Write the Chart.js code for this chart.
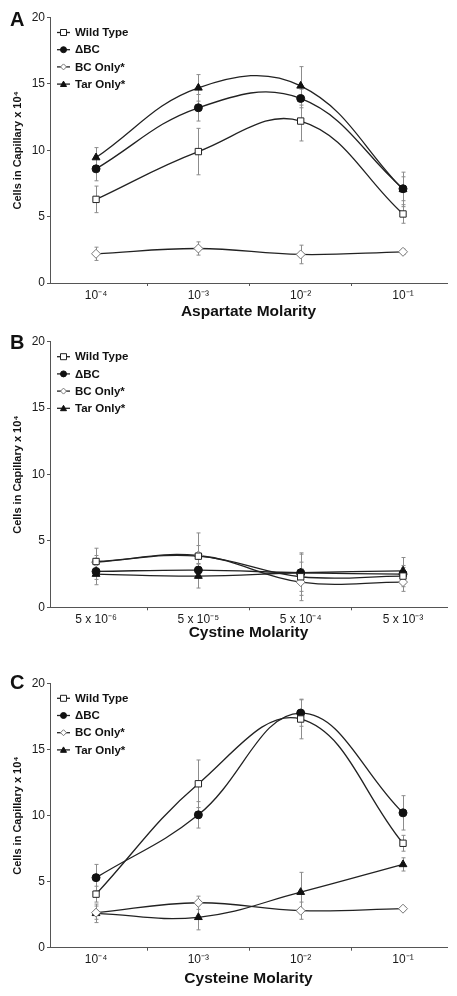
<!DOCTYPE html>
<html>
<head>
<meta charset="utf-8">
<script src="https://cdn.jsdelivr.net/npm/chart.js@4.4.0/dist/chart.umd.min.js"></script>
<style>
  body { margin: 0; background: #fff; width: 457px; height: 996px; position: relative; overflow: hidden; }
  canvas { position: absolute; left: 0; }
  .letter { position: absolute; left: 10px; font: bold 20px/20px "Liberation Sans", Arial, sans-serif; color: #111; }
</style>
</head>
<body>
<canvas id="cA" width="457" height="322" style="top:0px"></canvas>
<canvas id="cB" width="457" height="328" style="top:322px"></canvas>
<canvas id="cC" width="457" height="346" style="top:650px"></canvas>
<div class="letter" style="top:9px">A</div>
<div class="letter" style="top:332px">B</div>
<div class="letter" style="top:672px">C</div>
<script>
// tick labels
const aspartateLabels = ['10⁻⁴', '10⁻³', '10⁻²', '10⁻¹'];
const cystineLabels = ['5 x 10⁻⁶', '5 x 10⁻⁵', '5 x 10⁻⁴', '5 x 10⁻³'];
const cysteineLabels = ['10⁻⁴', '10⁻³', '10⁻²', '10⁻¹'];
const seriesNames = ['Wild Type', 'ΔBC', 'BC Only*', 'Tar Only*'];
const yTitle = 'Cells in Capillary x 10⁴';

// A - aspartate
const aspWT = [6.3, 9.9, 12.2, 5.2];
const aspWTErr = [1.0, 1.75, 1.5, 0.7];
const aspDBC = [8.6, 13.2, 13.9, 7.1];
const aspDBCErr = [0.9, 1.0, 0.7, 0.9];
const aspBC = [2.2, 2.6, 2.15, 2.35];
const aspBCErr = [0.5, 0.5, 0.7, 0.2];
const aspTar = [9.45, 14.7, 14.85, 7.05];
const aspTarErr = [0.75, 1.0, 1.45, 1.3];

// B - cystine
const cysWT = [3.45, 3.85, 2.3, 2.35];
const cysWTErr = [1.0, 0.8, 1.8, 0.8];
const cysDBC = [2.7, 2.8, 2.6, 2.5];
const cysDBCErr = [0.6, 0.5, 1.4, 0.5];
const cysBC = [3.4, 3.9, 1.9, 1.9];
const cysBCErr = [0.5, 1.7, 1.0, 0.7];
const cysTar = [2.5, 2.35, 2.6, 2.75];
const cysTarErr = [0.8, 0.9, 0.8, 1.0];

// C - cysteine
const cyteWT = [4.05, 12.4, 17.3, 7.9];
const cyteWTErr = [0.6, 1.8, 1.5, 0.6];
const cyteDBC = [5.3, 10.05, 17.75, 10.2];
const cyteDBCErr = [1.0, 1.0, 1.0, 1.3];
const cyteBC = [2.65, 3.4, 2.8, 2.95];
const cyteBCErr = [0.5, 0.5, 0.65, 0.15];
const cyteTar = [2.6, 2.3, 4.2, 6.3];
const cyteTarErr = [0.7, 0.95, 1.5, 0.5];

const FONT = '"Liberation Sans", Arial, sans-serif';
Chart.defaults.font.family = FONT;
Chart.defaults.color = '#1a1a1a';

// marker looks per series (same order as seriesNames)
const markers = [
  { style: 'rect', radius: 4.5, fill: '#fff', stroke: '#222' },
  { style: 'circle', radius: 4, fill: '#111', stroke: '#111' },
  { style: 'rectRot', radius: 4.5, fill: '#fff', stroke: '#777' },
  { style: 'triangle', radius: 4.5, fill: '#111', stroke: '#111' }
];

function drawMarker(ctx, style, x, y, r, fill, stroke) {
  ctx.beginPath();
  if (style === 'circle') {
    ctx.arc(x, y, r, 0, Math.PI * 2);
  } else if (style === 'rect') {
    ctx.rect(x - r, y - r, r * 2, r * 2);
  } else if (style === 'rectRot') {
    ctx.moveTo(x, y - r); ctx.lineTo(x + r, y); ctx.lineTo(x, y + r); ctx.lineTo(x - r, y); ctx.closePath();
  } else {
    ctx.moveTo(x, y - r); ctx.lineTo(x + r, y + r * 0.8); ctx.lineTo(x - r, y + r * 0.8); ctx.closePath();
  }
  ctx.fillStyle = fill; ctx.fill();
  ctx.strokeStyle = stroke; ctx.lineWidth = 1; ctx.stroke();
}

// vertical error bars, drawn under the lines
const errorBars = {
  id: 'errorBars',
  beforeDatasetsDraw(chart) {
    const ctx = chart.ctx, ys = chart.scales.y;
    ctx.save();
    ctx.strokeStyle = '#8c8c8c';
    ctx.lineWidth = 1;
    chart.data.datasets.forEach((ds, i) => {
      chart.getDatasetMeta(i).data.forEach((pt, j) => {
        const v = ds.data[j].y, e = ds.errors[j];
        const top = ys.getPixelForValue(v + e), bot = ys.getPixelForValue(v - e);
        const x = Math.round(pt.x) + 0.5;
        ctx.beginPath();
        ctx.moveTo(x, top); ctx.lineTo(x, bot);
        ctx.moveTo(x - 2, top); ctx.lineTo(x + 2, top);
        ctx.moveTo(x - 2, bot); ctx.lineTo(x + 2, bot);
        ctx.stroke();
      });
    });
    ctx.restore();
  }
};

// legend inside the plot, top left
const insideLegend = {
  id: 'insideLegend',
  afterDraw(chart) {
    const { ctx, chartArea } = chart;
    ctx.save();
    chart.data.datasets.forEach((ds, i) => {
      const ly = chartArea.top + 15 + 17.2 * i;
      const x0 = chartArea.left + 7, x1 = chartArea.left + 20;
      ctx.strokeStyle = '#222'; ctx.lineWidth = 1.3;
      ctx.beginPath(); ctx.moveTo(x0, ly); ctx.lineTo(x1, ly); ctx.stroke();
      const m = markers[i];
      drawMarker(ctx, m.style, (x0 + x1) / 2, ly, 3, m.fill, m.stroke);
      ctx.fillStyle = '#111';
      ctx.font = 'bold 11.5px ' + FONT;
      ctx.textBaseline = 'middle';
      ctx.textAlign = 'left';
      ctx.fillText(ds.label, chartArea.left + 25, ly + 0.5);
    });
    ctx.restore();
  }
};

function makePanel(id, labels, series, errors, xTitle, lay) {
  const datasets = series.map((vals, i) => ({
    label: seriesNames[i],
    data: vals.map((v, j) => ({ x: j, y: v })),
    errors: errors[i],
    borderColor: '#222',
    borderWidth: 1.3,
    tension: 0.4,
    pointStyle: markers[i].style,
    pointRadius: markers[i].radius,
    pointBackgroundColor: markers[i].fill,
    pointBorderColor: markers[i].stroke,
    pointBorderWidth: 1,
    fill: false
  }));

  new Chart(document.getElementById(id), {
    type: 'line',
    data: { datasets },
    plugins: [errorBars, insideLegend],
    options: {
      responsive: false,
      animation: false,
      layout: { padding: { top: lay.top, bottom: lay.bottom, left: 0, right: 10 } },
      plugins: { legend: { display: false }, tooltip: { enabled: false } },
      scales: {
        x: {
          type: 'linear',
          min: -0.45,
          max: 3.43,
          afterBuildTicks: s => { s.ticks = labels.map((l, i) => ({ value: i })); },
          afterFit: s => { s.height = lay.xH; },
          ticks: { callback: v => labels[v], font: { size: 12 }, padding: 2, maxRotation: 0, color: '#1a1a1a' },
          grid: { drawOnChartArea: false, offset: true, tickLength: 3, color: '#555' },
          border: { color: '#555', width: 1 },
          title: { display: true, text: xTitle, font: { size: 15.5, weight: 'bold' }, padding: { top: 0, bottom: 0 }, color: '#111' }
        },
        y: {
          min: 0,
          max: 20,
          afterFit: s => { s.width = 50; },
          ticks: { stepSize: 5, font: { size: 12 }, padding: 2, color: '#1a1a1a' },
          grid: { drawOnChartArea: false, tickLength: 3, color: '#555' },
          border: { color: '#555', width: 1 },
          title: { display: true, text: yTitle, font: { size: 11, weight: 'bold' }, padding: { top: 11.4, bottom: 0 }, color: '#111' }
        }
      }
    }
  });
}

makePanel('cA', aspartateLabels,
  [aspWT, aspDBC, aspBC, aspTar], [aspWTErr, aspDBCErr, aspBCErr, aspTarErr],
  'Aspartate Molarity', { top: 17.5, bottom: 0.5, xH: 38.5 });
makePanel('cB', cystineLabels,
  [cysWT, cysDBC, cysBC, cysTar], [cysWTErr, cysDBCErr, cysBCErr, cysTarErr],
  'Cystine Molarity', { top: 19.7, bottom: 7.7, xH: 35 });
makePanel('cC', cysteineLabels,
  [cyteWT, cyteDBC, cyteBC, cyteTar], [cyteWTErr, cyteDBCErr, cyteBCErr, cyteTarErr],
  'Cysteine Molarity', { top: 33.3, bottom: 8.3, xH: 40 });
</script>
</body>
</html>
